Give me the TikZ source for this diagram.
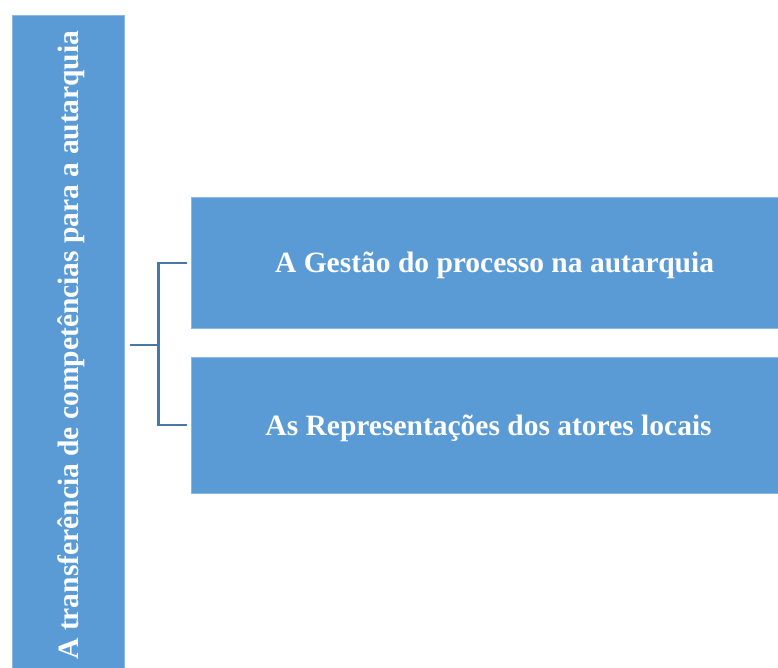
\documentclass[tikz,border=0pt]{standalone}
\usepackage{fontspec}
\setmainfont{Liberation Serif}
\definecolor{boxblue}{RGB}{91,155,213}
\definecolor{linkblue}{RGB}{70,120,170}
\begin{document}
\begin{tikzpicture}[x=1pt,y=-1pt,
        box/.style={fill=boxblue,draw=boxblue!70!white,line width=0.6pt,
            inner sep=0pt,text depth=0pt,text=white,
            font=\bfseries\fontsize{29.5}{34}\selectfont},
        link/.style={draw=linkblue,line width=2.2pt}]
\useasboundingbox (0,0) rectangle (778,668);
\clip (0,0) rectangle (778,668);
\node[box,rotate=90,minimum width=660pt,minimum height=112.7pt] (main)
    at (68.35,345.3) {A transferência de competências para a autarquia};
\node[box,anchor=west,minimum width=606pt,minimum height=130.7pt] (gestao)
    at (191.3,262.65) {A Gestão do processo na autarquia};
\node[box,anchor=west,minimum width=594pt,minimum height=136pt] (atores)
    at (191.3,425) {As Representações dos atores locais};

\coordinate (fork) at (158.5,345);
\draw[link] ([xshift=4.5pt]main.south |- fork) -- (fork);
\draw[link] ([xshift=-4pt]gestao.west) -| (fork) |- ([xshift=-4pt]atores.west);
\end{tikzpicture}
\end{document}
